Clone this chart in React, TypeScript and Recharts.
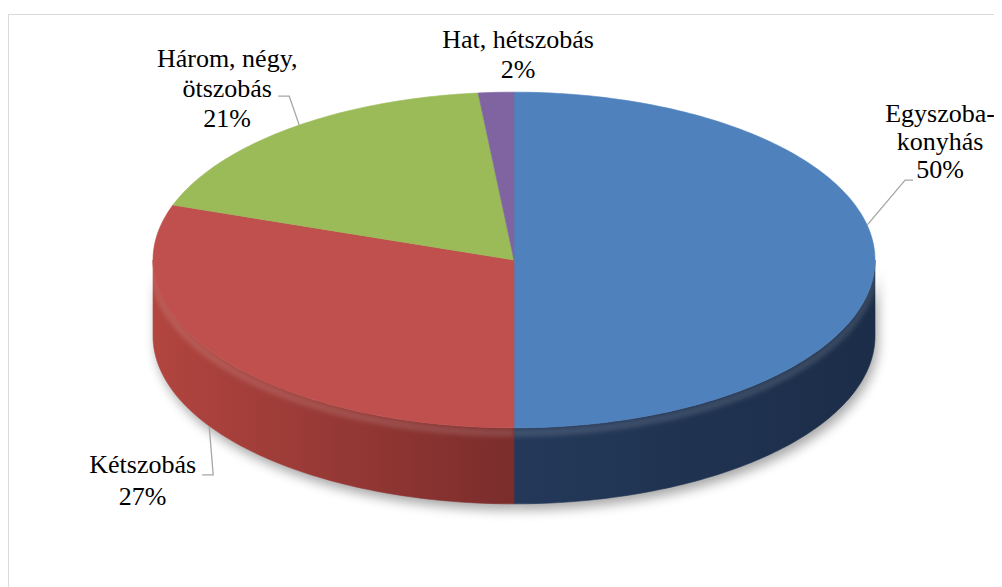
import React from 'react';
import { PieChart, Pie, Cell } from 'recharts';

// shares of flats by number of rooms (%)
const CATEGORIES = ['Egyszoba-konyhás', 'Kétszobás', 'Három, négy, ötszobás', 'Hat, hétszobás'];
const SHARES = [50, 27, 21, 2];
const TOP_COLORS = ['#4F81BD', '#C0504D', '#9BBB59', '#8064A2'];
const SIDE_COLORS = [
  ['#2d4e7a', '#24395a', '#1b2d48'],
  ['#b3453f', '#7b2d2c', '#5e2221'],
  ['#7d9a45', '#5f7733', '#4a5d28'],
  ['#654e82', '#4d3b63', '#3b2d4c'],
];

const data = CATEGORIES.map((name, i) => ({ name, value: SHARES[i] }));

const CX = 500;
const CY = 240;
const R = 361;
const TILT = 0.465;
const DEPTH = 76;
const PERSPECTIVE = 12; // degrees, squeezes the far side like Excel's 3D view
const FONT = '"Liberation Serif", "Times New Roman", Times, serif';

const rad = (a: number) => (a * Math.PI) / 180;
const warp = (a: number) => a + PERSPECTIVE * Math.cos(rad(a));
const pt = (cx: number, cy: number, r: number, a: number, dy = 0) => [
  cx + r * Math.cos(rad(a)),
  cy - r * TILT * Math.sin(rad(a)) + dy,
];
const arcPts = (cx: number, cy: number, r: number, a1: number, a2: number, dy = 0) => {
  const n = Math.max(2, Math.ceil(Math.abs(a2 - a1)));
  const out: number[][] = [];
  for (let i = 0; i <= n; i++) out.push(pt(cx, cy, r, a1 + ((a2 - a1) * i) / n, dy));
  return out;
};
const toPath = (pts: number[][]) => pts.map((p, i) => `${i ? 'L' : 'M'}${p[0].toFixed(2)},${p[1].toFixed(2)}`).join(' ');

// parts of a sector that face the viewer (lower half of the ellipse)
const frontParts = (a1: number, a2: number) => {
  const lo = Math.min(a1, a2);
  const hi = Math.max(a1, a2);
  const parts: number[][] = [];
  for (let k = -2; k <= 1; k++) {
    const s = Math.max(lo, -180 + 360 * k);
    const e = Math.min(hi, 360 * k);
    if (e > s + 0.01) parts.push([s, e]);
  }
  return parts;
};

const sidePath = (cx: number, cy: number, r: number, s: number, e: number) => {
  const top = arcPts(cx, cy, r, s, e);
  const bottom = arcPts(cx, cy, r, e, s, DEPTH);
  return toPath([...top, ...bottom]) + ' Z';
};

const indexOfName = (props: any) => Math.max(0, CATEGORIES.indexOf(props.name ?? props.payload?.name));

const ShadowShape = (props: any) => {
  const { cx, cy, outerRadius, startAngle, endAngle } = props;
  return (
    <g filter="url(#pieShadow)" opacity={0.35}>
      {frontParts(warp(startAngle), warp(endAngle)).map(([s, e], i) => (
        <path key={i} d={sidePath(cx + 3, cy + 6, outerRadius, s, e)} fill="#000" />
      ))}
    </g>
  );
};

const SideShape = (props: any) => {
  const { cx, cy, outerRadius, startAngle, endAngle } = props;
  const idx = indexOfName(props);
  return (
    <g>
      {frontParts(warp(startAngle), warp(endAngle)).map(([s, e], i) => (
        <g key={i}>
          <path d={sidePath(cx, cy, outerRadius, s, e)} fill={`url(#side${idx})`} stroke={`url(#side${idx})`} strokeWidth={0.6} />
          <path
            d={toPath(arcPts(cx, cy, outerRadius, s, e, 5))}
            fill="none"
            stroke="#ffffff"
            strokeOpacity={0.12}
            strokeWidth={8}
            filter="url(#rimBlur)"
          />
        </g>
      ))}
    </g>
  );
};

const TopShape = (props: any) => {
  const { cx, cy, outerRadius, startAngle, endAngle, fill } = props;
  const pts = [[cx, cy], ...arcPts(cx, cy, outerRadius, warp(startAngle), warp(endAngle))];
  return <path d={toPath(pts) + ' Z'} fill={fill} stroke={fill} strokeWidth={0.6} />;
};

// Excel-like label placement: leader elbow, tail and text offsets from the slice's mid point
const LABEL_LAYOUT = [
  { onSide: false, elbow: [38, -45], tail: 8, text: 27, lines: [-58, -30, -2] },
  { onSide: true, elbow: [4, 49], tail: -11, text: -59.5, lines: [-2, 30] },
  { onSide: false, elbow: [-10, -29], tail: -11, text: -51, lines: [-29, 1, 31] },
  { onSide: false, elbow: null, tail: 0, text: 22, lines: [-44, -14] },
];

const wrap = (label: string, max = 14) => {
  const words = label.replace(/-/g, '- ').split(' ').filter(Boolean);
  const lines: string[] = [];
  let cur = '';
  words.forEach((w) => {
    const joined = cur ? (cur.endsWith('-') ? cur + w : cur + ' ' + w) : w;
    if (cur && joined.length > max) {
      lines.push(cur);
      cur = w;
    } else cur = joined;
  });
  if (cur) lines.push(cur);
  return lines;
};

const renderLabel = (props: any) => {
  const { cx, cy, outerRadius, midAngle, percent, index, name } = props;
  const lay = LABEL_LAYOUT[index];
  const [ax, ay] = pt(cx, cy, outerRadius, warp(midAngle), lay.onSide ? DEPTH : 0);
  let fx = ax;
  let fy = ay;
  let leader: string | null = null;
  if (lay.elbow) {
    const ex = ax + lay.elbow[0];
    const ey = ay + lay.elbow[1];
    fx = ex + lay.tail;
    fy = ey;
    leader = `M${ax},${ay} L${ex},${ey} L${fx},${fy}`;
  }
  const lines = [...wrap(name), `${Math.round(percent * 100)}%`];
  return (
    <g key={`lbl-${index}`}>
      {leader && <path d={leader} fill="none" stroke="#a6a6a6" strokeWidth={1.3} />}
      {lines.map((t, i) => (
        <text
          key={i}
          x={fx + lay.text}
          y={fy + lay.lines[i]}
          textAnchor="middle"
          style={{ fontFamily: FONT, fontSize: 26, fill: '#000' }}
        >
          {t}
        </text>
      ))}
    </g>
  );
};

const App: React.FC = () => {
  return (
    <div style={{ paddingTop: 6 }}>
      <div style={{ width: 1000, height: 590, border: '1px solid #d9d9d9', background: '#fff' }}>
        <PieChart width={994} height={574}>
          <defs>
            <filter id="pieShadow" x="-20%" y="-50%" width="140%" height="200%">
              <feGaussianBlur stdDeviation="6" />
            </filter>
            <filter id="rimBlur" x="-10%" y="-50%" width="120%" height="200%">
              <feGaussianBlur stdDeviation="2" />
            </filter>
            {SIDE_COLORS.map((c, i) => (
              <linearGradient key={i} id={`side${i}`} gradientUnits="userSpaceOnUse" x1={CX - R} y1={0} x2={CX + R} y2={0}>
                <stop offset="0%" stopColor={c[0]} />
                <stop offset="50%" stopColor={c[1]} />
                <stop offset="100%" stopColor={c[2]} />
              </linearGradient>
            ))}
          </defs>
          <Pie
            data={data}
            dataKey="value"
            nameKey="name"
            cx={CX}
            cy={CY}
            outerRadius={R}
            startAngle={90}
            endAngle={-270}
            stroke="none"
            shape={ShadowShape}
            isAnimationActive={false}
          >
            {data.map((d, i) => (
              <Cell key={`s-${i}`} fill={TOP_COLORS[i]} />
            ))}
          </Pie>
          <Pie
            data={data}
            dataKey="value"
            nameKey="name"
            cx={CX}
            cy={CY}
            outerRadius={R}
            startAngle={90}
            endAngle={-270}
            stroke="none"
            shape={SideShape}
            isAnimationActive={false}
          >
            {data.map((d, i) => (
              <Cell key={`d-${i}`} fill={TOP_COLORS[i]} />
            ))}
          </Pie>
          <Pie
            data={data}
            dataKey="value"
            nameKey="name"
            cx={CX}
            cy={CY}
            outerRadius={R}
            startAngle={90}
            endAngle={-270}
            stroke="none"
            shape={TopShape}
            label={renderLabel}
            labelLine={false}
            isAnimationActive={false}
          >
            {data.map((d, i) => (
              <Cell key={`t-${i}`} fill={TOP_COLORS[i]} />
            ))}
          </Pie>
        </PieChart>
      </div>
    </div>
  );
};

export default App;
